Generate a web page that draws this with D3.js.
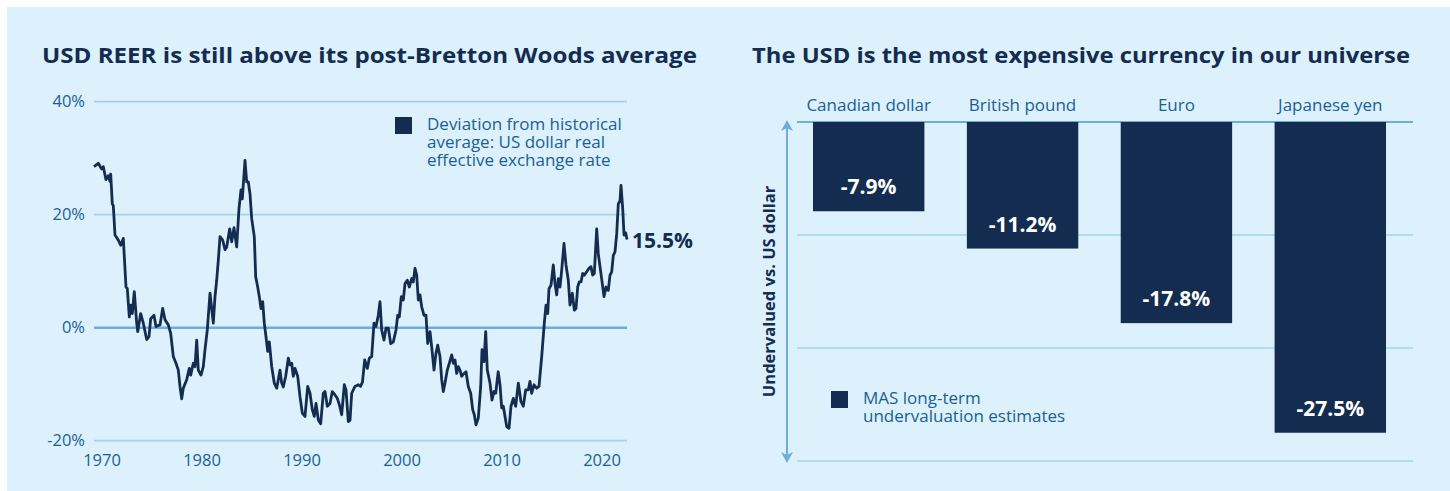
<!DOCTYPE html>
<html>
<head>
<meta charset="utf-8">
<script src="https://cdn.jsdelivr.net/npm/d3@7"></script>
<style>
  body { margin: 0; background: #fff; }
  svg text { font-family: "Open Sans", Lato, sans-serif; }
</style>
</head>
<body>
<svg id="chart" width="1450" height="491"></svg>
<script>
// left panel: USD REER deviation from historical average (%)
var reerYears = [
  1969.25, 1969.68, 1970.0, 1970.18, 1970.45, 1970.68, 1970.85, 1970.92, 1971.08, 1971.18,
  1971.35, 1971.68, 1971.92, 1972.18, 1972.45, 1972.58, 1972.78, 1972.92, 1973.08, 1973.28,
  1973.52, 1973.62, 1973.92, 1974.18, 1974.52, 1974.75, 1974.92, 1975.25, 1975.45, 1975.85,
  1976.12, 1976.35, 1976.68, 1976.92, 1977.18, 1977.45, 1977.68, 1977.85, 1978.02, 1978.18,
  1978.52, 1978.78, 1978.92, 1979.18, 1979.35, 1979.52, 1979.68, 1979.95, 1980.18, 1980.35,
  1980.58, 1980.85, 1981.18, 1981.35, 1981.52, 1981.68, 1981.85, 1982.12, 1982.35, 1982.52,
  1982.82, 1983.02, 1983.25, 1983.52, 1983.75, 1983.95, 1984.08, 1984.35, 1984.52, 1984.68,
  1984.85, 1985.02, 1985.28, 1985.42, 1985.62, 1985.78, 1985.95, 1986.12, 1986.28, 1986.45,
  1986.62, 1986.78, 1987.02, 1987.28, 1987.52, 1987.68, 1987.85, 1988.02, 1988.18, 1988.42,
  1988.68, 1988.85, 1989.02, 1989.18, 1989.35, 1989.62, 1989.85, 1990.08, 1990.35, 1990.62,
  1990.85, 1991.08, 1991.28, 1991.45, 1991.68, 1991.92, 1992.18, 1992.35, 1992.58, 1992.85,
  1993.08, 1993.35, 1993.58, 1993.78, 1994.02, 1994.28, 1994.45, 1994.68, 1994.85, 1995.02,
  1995.35, 1995.68, 1995.9, 1996.1, 1996.32, 1996.58, 1996.78, 1997.02, 1997.25, 1997.45,
  1997.68, 1997.85, 1998.02, 1998.25, 1998.45, 1998.68, 1998.92, 1999.18, 1999.45, 1999.62,
  1999.78, 1999.98, 2000.18, 2000.35, 2000.58, 2000.78, 2001.02, 2001.18, 2001.35, 2001.52,
  2001.68, 2001.85, 2002.02, 2002.25, 2002.45, 2002.62, 2002.85, 2003.02, 2003.25, 2003.45,
  2003.62, 2003.85, 2004.02, 2004.18, 2004.35, 2004.58, 2004.78, 2005.02, 2005.18, 2005.35,
  2005.52, 2005.68, 2005.85, 2006.02, 2006.25, 2006.45, 2006.68, 2006.92, 2007.12, 2007.28,
  2007.45, 2007.68, 2007.92, 2008.05, 2008.25, 2008.42, 2008.58, 2008.85, 2009.05, 2009.25,
  2009.42, 2009.67, 2009.85, 2010.02, 2010.18, 2010.52, 2010.75, 2010.95, 2011.18, 2011.42,
  2011.68, 2011.95, 2012.18, 2012.42, 2012.68, 2012.85, 2013.02, 2013.25, 2013.52, 2013.75,
  2014.02, 2014.28, 2014.45, 2014.62, 2014.75, 2014.95, 2015.18, 2015.35, 2015.52, 2015.68,
  2015.85, 2016.02, 2016.25, 2016.45, 2016.68, 2016.85, 2017.08, 2017.28, 2017.45, 2017.62,
  2017.78, 2017.95, 2018.12, 2018.28, 2018.52, 2018.75, 2018.95, 2019.12, 2019.28, 2019.52,
  2019.68, 2019.85, 2020.08, 2020.25, 2020.45, 2020.68, 2020.85, 2021.02, 2021.18, 2021.35,
  2021.52, 2021.68, 2021.85, 2021.95, 2022.12, 2022.25, 2022.42, 2022.55
];
var reerValues = [
  28.5, 29.1, 28.1, 28.5, 26.2, 26.9, 25.9, 27.2, 21.9, 21.6,
  16.4, 15.5, 14.6, 15.8, 7.2, 6.9, 1.9, 4.0, 2.5, 6.4,
  0.8, -0.7, 2.5, 0.8, -2.1, -1.6, 1.6, 2.2, 0.2, 0.5,
  3.4, 1.4, 0.5, -1.0, -5.1, -6.3, -7.5, -10.4, -12.6, -10.7,
  -9.2, -7.2, -8.4, -6.3, -6.9, -2.2, -7.5, -8.4, -6.9, -3.9,
  -0.4, 6.1, 0.8, 5.5, 8.4, 11.9, 16.1, 15.5, 13.8, 14.3,
  17.5, 15.2, 17.7, 14.3, 21.1, 24.4, 22.8, 29.6, 25.8, 25.8,
  23.7, 19.3, 16.1, 9.0, 7.2, 5.5, 3.4, 4.6, 0.8, -1.6,
  -4.2, -2.5, -6.9, -9.8, -10.7, -9.2, -7.5, -9.8, -10.5, -8.6,
  -5.4, -6.6, -6.3, -8.6, -7.2, -8.6, -12.2, -15.1, -15.7, -10.4,
  -11.6, -14.5, -15.7, -13.4, -16.3, -17.0, -11.6, -11.3, -13.9, -13.4,
  -11.3, -11.9, -12.5, -13.6, -15.4, -10.1, -11.0, -16.6, -16.4, -11.6,
  -10.4, -10.1, -10.4, -9.6, -5.7, -7.2, -5.4, -5.1, 0.8, 0.2,
  2.2, 4.6, -0.4, -2.2, -0.1, -0.1, -2.8, -2.5, -0.4, 2.2,
  1.9, 5.5, 4.9, 7.8, 8.4, 7.2, 8.7, 8.1, 10.5, 9.3,
  4.9, 5.8, 3.7, 2.2, 2.2, -2.8, -0.7, -3.4, -7.5, -4.5,
  -3.1, -5.1, -9.2, -11.3, -9.8, -7.5, -6.3, -4.8, -6.3, -5.7,
  -8.1, -6.9, -7.5, -8.6, -8.1, -7.8, -10.4, -11.6, -14.5, -15.4,
  -17.2, -16.0, -10.4, -3.9, -6.0, -0.7, -7.5, -9.8, -12.8, -11.3,
  -11.6, -7.8, -10.1, -14.2, -13.9, -17.5, -17.8, -13.9, -12.5, -13.9,
  -9.8, -13.1, -13.9, -11.0, -11.0, -9.5, -11.6, -10.1, -10.7, -10.4,
  -5.1, 0.8, 4.0, 2.5, 6.9, 7.5, 11.1, 7.8, 5.8, 8.7,
  7.2, 10.2, 14.9, 11.1, 8.4, 4.0, 6.1, 3.1, 3.4, 7.2,
  8.1, 8.1, 9.6, 9.3, 9.9, 10.5, 10.8, 9.3, 9.6, 17.5,
  13.1, 10.8, 7.8, 5.5, 7.2, 6.6, 9.3, 9.9, 12.8, 13.4,
  16.6, 21.9, 22.5, 25.2, 21.1, 16.4, 16.8, 15.6
];
var reerLatestLabel = '15.5%';
var leftYTicks = [-20, 0, 20, 40];
var leftXTicks = [1970, 1980, 1990, 2000, 2010, 2020];
var leftLegendLines = ['Deviation from historical', 'average: US dollar real', 'effective exchange rate'];

// right panel: MAS long-term undervaluation estimates vs USD (%)
var currencies = ['Canadian dollar', 'British pound', 'Euro', 'Japanese yen'];
var undervaluation = [-7.9, -11.2, -17.8, -27.5];
var rightYTicks = [0, -10, -20, -30];
var rightLegendLines = ['MAS long-term', 'undervaluation estimates'];

var navy = '#142c50';
var tickBlue = '#1a5f94';
var gridBlue = '#a3d2f1';
var zeroBlue = '#6caee0';
var fontStack = '"Open Sans", Lato, sans-serif';

var svg = d3.select('#chart');

svg.append('rect')
  .attr('x', 7).attr('y', 7)
  .attr('width', 1443).attr('height', 484)
  .attr('fill', '#dcf1fc');

// ---------- left chart ----------
var xLeft = d3.scaleLinear().domain([1969.25, 2022.55]).range([94, 627]);
var yLeft = d3.scaleLinear().domain([-20, 40]).range([440.7, 101.7]);

svg.append('text')
  .attr('x', 42).attr('y', 63)
  .attr('font-size', 21.5).attr('font-weight', 700)
  .attr('fill', navy)
  .attr('textLength', 655).attr('lengthAdjust', 'spacingAndGlyphs')
  .text('USD REER is still above its post-Bretton Woods average');

svg.append('g').selectAll('line')
  .data(leftYTicks)
  .enter().append('line')
  .attr('x1', xLeft.range()[0]).attr('x2', xLeft.range()[1])
  .attr('y1', function(d) { return yLeft(d); })
  .attr('y2', function(d) { return yLeft(d); })
  .attr('stroke', function(d) { return d === 0 ? zeroBlue : gridBlue; })
  .attr('stroke-width', function(d) { return d === 0 ? 2.5 : 1.8; });

var yAxisLeft = d3.axisLeft(yLeft)
  .tickValues(leftYTicks)
  .tickFormat(function(d) { return d + '%'; })
  .tickSize(0)
  .tickPadding(9);

var gy = svg.append('g')
  .attr('transform', 'translate(94,0)')
  .call(yAxisLeft);
gy.select('.domain').remove();
gy.selectAll('text')
  .attr('font-size', 16.5).attr('fill', tickBlue)
  .style('font-family', fontStack);

var xAxisLeft = d3.axisBottom(xLeft)
  .tickValues(leftXTicks)
  .tickFormat(d3.format('d'))
  .tickSize(0)
  .tickPadding(14);

var gx = svg.append('g')
  .attr('transform', 'translate(0,440.7)')
  .call(xAxisLeft);
gx.select('.domain').remove();
gx.selectAll('text')
  .attr('font-size', 16.5).attr('fill', tickBlue)
  .style('font-family', fontStack);

var line = d3.line()
  .x(function(d, i) { return xLeft(reerYears[i]); })
  .y(function(d) { return yLeft(d); });

svg.append('path')
  .datum(reerValues)
  .attr('d', line)
  .attr('fill', 'none')
  .attr('stroke', navy)
  .attr('stroke-width', 2.8)
  .attr('stroke-linejoin', 'round');

var lastI = reerValues.length - 1;
svg.append('text')
  .attr('x', xLeft(reerYears[lastI]) + 5)
  .attr('y', yLeft(reerValues[lastI]) + 8)
  .attr('font-size', 21).attr('font-weight', 700)
  .attr('fill', navy)
  .text(reerLatestLabel);

// legend (left)
svg.append('rect')
  .attr('x', 395).attr('y', 117)
  .attr('width', 17).attr('height', 17)
  .attr('fill', navy);

svg.append('g').selectAll('text')
  .data(leftLegendLines)
  .enter().append('text')
  .attr('x', 427)
  .attr('y', function(d, i) { return 130 + i * 18; })
  .attr('font-size', 17).attr('fill', tickBlue)
  .text(function(d) { return d; });

// ---------- right chart ----------
var xRight = d3.scaleBand().domain(currencies).range([813, 1386]).paddingInner(0.276);
var yRight = d3.scaleLinear().domain([-30, 0]).range([461, 122]);

svg.append('text')
  .attr('x', 752).attr('y', 63)
  .attr('font-size', 21.5).attr('font-weight', 700)
  .attr('fill', navy)
  .attr('textLength', 658).attr('lengthAdjust', 'spacingAndGlyphs')
  .text('The USD is the most expensive currency in our universe');

svg.append('g').selectAll('line')
  .data(rightYTicks)
  .enter().append('line')
  .attr('x1', 797).attr('x2', 1413)
  .attr('y1', function(d) { return yRight(d); })
  .attr('y2', function(d) { return yRight(d); })
  .attr('stroke', function(d) { return d === 0 ? zeroBlue : gridBlue; })
  .attr('stroke-width', function(d) { return d === 0 ? 2 : 1.6; });

svg.append('g').selectAll('rect')
  .data(undervaluation)
  .enter().append('rect')
  .attr('x', function(d, i) { return xRight(currencies[i]); })
  .attr('y', yRight(0))
  .attr('width', xRight.bandwidth())
  .attr('height', function(d) { return yRight(d) - yRight(0); })
  .attr('fill', navy);

svg.append('g').selectAll('text')
  .data(undervaluation)
  .enter().append('text')
  .attr('x', function(d, i) { return xRight(currencies[i]) + xRight.bandwidth() / 2; })
  .attr('y', function(d) { return yRight(d) - 17; })
  .attr('text-anchor', 'middle')
  .attr('font-size', 21).attr('font-weight', 700)
  .attr('fill', '#fff')
  .text(function(d) { return d.toFixed(1) + '%'; });

svg.append('g').selectAll('text')
  .data(currencies)
  .enter().append('text')
  .attr('x', function(d) { return xRight(d) + xRight.bandwidth() / 2; })
  .attr('y', 111)
  .attr('text-anchor', 'middle')
  .attr('font-size', 17).attr('fill', tickBlue)
  .text(function(d) { return d; });

// double-headed arrow for the y axis
var arrowX = 787;
svg.append('line')
  .attr('x1', arrowX).attr('x2', arrowX)
  .attr('y1', yRight(0)).attr('y2', yRight(-30))
  .attr('stroke', zeroBlue).attr('stroke-width', 2);
svg.append('path')
  .attr('d', 'M' + arrowX + ',' + (yRight(0) - 2) + 'l-6,11l6,-3l6,3z')
  .attr('fill', zeroBlue);
svg.append('path')
  .attr('d', 'M' + arrowX + ',' + (yRight(-30) + 2) + 'l-6,-11l6,3l6,-3z')
  .attr('fill', zeroBlue);

svg.append('text')
  .attr('transform', 'translate(775,' + yRight(-15) + ') rotate(-90)')
  .attr('text-anchor', 'middle')
  .attr('font-size', 16.5).attr('font-weight', 700)
  .attr('fill', navy)
  .text('Undervalued vs. US dollar');

// legend (right)
svg.append('rect')
  .attr('x', 831).attr('y', 391)
  .attr('width', 17).attr('height', 17)
  .attr('fill', navy);

svg.append('g').selectAll('text')
  .data(rightLegendLines)
  .enter().append('text')
  .attr('x', 863)
  .attr('y', function(d, i) { return 404 + i * 18; })
  .attr('font-size', 17).attr('fill', tickBlue)
  .text(function(d) { return d; });
</script>
</body>
</html>
